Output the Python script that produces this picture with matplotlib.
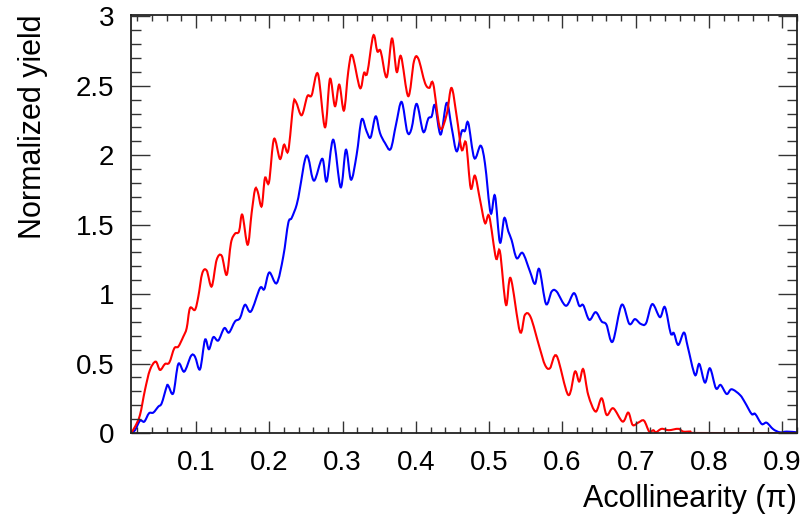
import matplotlib.pyplot as plt
from matplotlib.path import Path
from matplotlib.patches import PathPatch
from matplotlib.ticker import MultipleLocator

plt.rcParams['font.family'] = ['Liberation Sans', 'DejaVu Sans']

# Red curve (x in units of pi, normalized yield)
red_x = [0.0113, 0.0168, 0.0236, 0.0304, 0.0372, 0.045, 0.0509, 0.0577, 0.0636, 0.0704,
         0.0759, 0.0827, 0.0873, 0.0918, 0.0986, 0.1032, 0.1086, 0.1146, 0.1214, 0.1282,
         0.1351, 0.1419, 0.1477, 0.1532, 0.1587, 0.1632, 0.1705, 0.1759, 0.1805, 0.1841,
         0.1896, 0.1941, 0.1996, 0.2064, 0.2146, 0.2201, 0.2259, 0.2328, 0.2364, 0.2442,
         0.2519, 0.2578, 0.2664, 0.276, 0.2828, 0.2896, 0.2955, 0.3019, 0.3078, 0.3132,
         0.3237, 0.3292, 0.3337, 0.3419, 0.3473, 0.352, 0.3602, 0.3674, 0.3738, 0.3797,
         0.3896, 0.3974, 0.4033, 0.4124, 0.4183, 0.4237, 0.4329, 0.442, 0.4486, 0.4557,
         0.4625, 0.4684, 0.4748, 0.4806, 0.4875, 0.4943, 0.5001, 0.5093, 0.5147, 0.5229,
         0.5293, 0.542, 0.5488, 0.5566, 0.5684, 0.5762, 0.5829, 0.5921, 0.6079, 0.617,
         0.6229, 0.6284, 0.6352, 0.6453, 0.6535, 0.6603, 0.6693, 0.6821, 0.6898, 0.6958,
         0.7035, 0.7112, 0.7184, 0.7239, 0.7276, 0.7353, 0.745, 0.758, 0.7648, 0.775,
         0.785, 0.92]
red_y = [0.0, 0.045, 0.13, 0.31, 0.454, 0.514, 0.454, 0.497, 0.507, 0.61,
         0.622, 0.694, 0.755, 0.899, 0.887, 0.983, 1.151, 1.170, 1.055, 1.247,
         1.276, 1.139, 1.368, 1.435, 1.451, 1.572, 1.355, 1.584, 1.752, 1.740,
         1.632, 1.836, 1.805, 2.117, 1.973, 2.076, 2.033, 2.365, 2.384, 2.288,
         2.425, 2.432, 2.586, 2.201, 2.550, 2.353, 2.509, 2.322, 2.605, 2.720,
         2.485, 2.593, 2.593, 2.862, 2.749, 2.749, 2.562, 2.841, 2.60, 2.713,
         2.425, 2.677, 2.696, 2.521, 2.485, 2.514, 2.197, 2.293, 2.485, 2.28,
         2.040, 2.089, 1.764, 1.853, 1.680, 1.512, 1.560, 1.259, 1.307, 0.923,
         1.115, 0.730, 0.851, 0.834, 0.622, 0.490, 0.466, 0.555, 0.274, 0.442,
         0.370, 0.459, 0.274, 0.154, 0.250, 0.130, 0.178, 0.082, 0.147, 0.058,
         0.075, 0.089, 0.01, 0.02, 0.005, 0.03, 0.02, 0.03, 0.01, 0.01,
         0.0, 0.0]

# Blue curve
blue_x = [0.0113, 0.0168, 0.0236, 0.0295, 0.0359, 0.0418, 0.0486, 0.0532, 0.06, 0.0622,
          0.069, 0.0759, 0.084, 0.0932, 0.0986, 0.1055, 0.1123, 0.1177, 0.1236, 0.1304,
          0.1386, 0.145, 0.1532, 0.16, 0.1668, 0.175, 0.1873, 0.1932, 0.2, 0.2101,
          0.2191, 0.2259, 0.2305, 0.2374, 0.2419, 0.2487, 0.2532, 0.261, 0.2723, 0.2783,
          0.2873, 0.2974, 0.3046, 0.3115, 0.3192, 0.326, 0.3328, 0.3383, 0.3451, 0.351,
          0.3578, 0.3656, 0.3729, 0.3806, 0.3883, 0.394, 0.4011, 0.4101, 0.4169, 0.4216,
          0.4261, 0.4338, 0.442, 0.4488, 0.4557, 0.4625, 0.467, 0.4715, 0.4797, 0.4884,
          0.4943, 0.502, 0.5079, 0.5147, 0.5206, 0.5261, 0.5306, 0.5375, 0.5457, 0.5557,
          0.5625, 0.5684, 0.5775, 0.5853, 0.592, 0.6048, 0.6157, 0.6229, 0.6284, 0.6366,
          0.6453, 0.6535, 0.66, 0.6685, 0.6808, 0.6912, 0.6989, 0.7067, 0.714, 0.7225,
          0.733, 0.7398, 0.7476, 0.752, 0.758, 0.7658, 0.771, 0.7808, 0.7867, 0.7944,
          0.8012, 0.8094, 0.8158, 0.824, 0.8308, 0.8422, 0.849, 0.8581, 0.863, 0.8718,
          0.8786, 0.8876, 0.8967, 0.9059, 0.92]
blue_y = [0.0, 0.02, 0.089, 0.082, 0.142, 0.147, 0.190, 0.214, 0.334, 0.341,
          0.286, 0.497, 0.442, 0.555, 0.550, 0.459, 0.671, 0.603, 0.690, 0.666,
          0.755, 0.723, 0.803, 0.827, 0.923, 0.875, 1.043, 1.036, 1.156, 1.079,
          1.271, 1.512, 1.548, 1.644, 1.764, 1.968, 1.981, 1.817, 1.975, 1.812,
          2.112, 1.769, 2.040, 1.824, 2.004, 2.257, 2.172, 2.129, 2.28, 2.161,
          2.089, 2.045, 2.221, 2.384, 2.168, 2.19, 2.370, 2.168, 2.264, 2.28,
          2.36, 2.149, 2.377, 2.20, 2.028, 2.172, 2.175, 2.233, 1.980, 2.069,
          1.94, 1.584, 1.709, 1.372, 1.548, 1.452, 1.39, 1.259, 1.296, 1.163,
          1.074, 1.180, 0.930, 1.019, 1.019, 0.916, 1.007, 0.916, 0.92, 0.815,
          0.870, 0.803, 0.78, 0.658, 0.923, 0.786, 0.820, 0.786, 0.79, 0.928,
          0.834, 0.906, 0.719, 0.719, 0.634, 0.723, 0.62, 0.418, 0.497, 0.363,
          0.466, 0.322, 0.346, 0.281, 0.315, 0.274, 0.22, 0.137, 0.137, 0.065,
          0.074, 0.027, 0.005, 0.01, 0.005]


def smooth_path(xs, ys):
    # curve through the points drawn as Bezier segments (like ROOT's "C" option)
    pts = list(zip(xs, ys))
    verts = [pts[0]]
    codes = [Path.MOVETO]
    n = len(pts)
    for i in range(n - 1):
        p0 = pts[max(i - 1, 0)]
        p1 = pts[i]
        p2 = pts[i + 1]
        p3 = pts[min(i + 2, n - 1)]
        c1 = (p1[0] + (p2[0] - p0[0]) / 6, p1[1] + (p2[1] - p0[1]) / 6)
        c2 = (p2[0] - (p3[0] - p1[0]) / 6, p2[1] - (p3[1] - p1[1]) / 6)
        verts += [c1, c2, p2]
        codes += [Path.CURVE4] * 3
    return Path(verts, codes)


fig = plt.figure(figsize=(8.07, 5.17), dpi=100)
ax = fig.add_axes([0.1623, 0.1625, 0.8253, 0.8085])

ax.add_patch(PathPatch(smooth_path(blue_x, blue_y), fill=False, edgecolor='#0000ff', lw=1.5))
ax.add_patch(PathPatch(smooth_path(red_x, red_y), fill=False, edgecolor='#ff0000', lw=1.5))

ax.set_xlim(0.0113, 0.92)
ax.set_ylim(0, 3.01)

ax.xaxis.set_minor_locator(MultipleLocator(0.02))
ax.yaxis.set_minor_locator(MultipleLocator(0.1))
ax.set_xticks([0.1, 0.2, 0.3, 0.4, 0.5, 0.6, 0.7, 0.8, 0.9])
ax.set_xticklabels(['0.1', '0.2', '0.3', '0.4', '0.5', '0.6', '0.7', '0.8', '0.9'])
ax.set_yticks([0, 0.5, 1, 1.5, 2, 2.5, 3])
ax.set_yticklabels(['0', '0.5', '1', '1.5', '2', '2.5', '3'])

ax.tick_params(axis='both', which='both', direction='in', top=True, right=True,
               labelsize=20, color='#333333')
ax.tick_params(axis='x', which='major', length=9, width=1, pad=12)
ax.tick_params(axis='x', which='minor', length=4.5, width=1)
ax.tick_params(axis='y', which='major', length=14, width=1, pad=12)
ax.tick_params(axis='y', which='minor', length=7, width=1)
for s in ax.spines.values():
    s.set_linewidth(1.3)
    s.set_color('#222222')

ax.set_xlabel('Acollinearity (\u03c0)', fontsize=22, loc='right', labelpad=6)
ax.set_ylabel('Normalized yield', fontsize=22, loc='top', labelpad=20)

fig.savefig('out.png', dpi=100)
